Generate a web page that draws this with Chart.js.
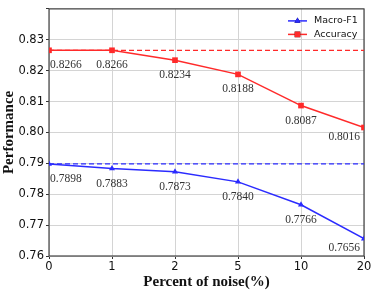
<!DOCTYPE html>
<html>
<head>
<meta charset="utf-8">
<script src="https://cdn.jsdelivr.net/npm/chart.js@4"></script>
<style>
  html, body { margin: 0; padding: 0; background: #fff; }
  #wrap { width: 374px; height: 291px; }
</style>
</head>
<body>
<div id="wrap"><canvas id="noiseChart"></canvas></div>
<script>
const noiseLevels = ["0", "1", "2", "5", "10", "20"];
const macroF1 = [0.7898, 0.7883, 0.7873, 0.7840, 0.7766, 0.7656];
const accuracy = [0.8266, 0.8266, 0.8234, 0.8188, 0.8087, 0.8016];
const macroF1Base = [0.7898, 0.7898, 0.7898, 0.7898, 0.7898, 0.7898];
const accuracyBase = [0.8266, 0.8266, 0.8266, 0.8266, 0.8266, 0.8266];

const RED = '#ff2a2a';
const BLUE = '#2b2bff';

// frame round the plot area
const framePlugin = {
  id: 'frame',
  beforeDatasetsDraw(chart) {
    const a = chart.chartArea;
    const ctx = chart.ctx;
    ctx.save();
    ctx.strokeStyle = '#444';
    ctx.lineWidth = 1.2;
    ctx.strokeRect(a.left, a.top, a.right - a.left, a.bottom - a.top);
    ctx.restore();
  }
};

// value labels under the points
const valueLabels = {
  id: 'valueLabels',
  afterDatasetsDraw(chart) {
    const ctx = chart.ctx;
    ctx.save();
    ctx.font = "11.5px 'Liberation Serif', serif";
    ctx.fillStyle = '#333';
    ctx.textBaseline = 'middle';
    [0, 1].forEach(di => {
      const meta = chart.getDatasetMeta(di);
      const vals = chart.data.datasets[di].data;
      meta.data.forEach((pt, i) => {
        let x = pt.x;
        ctx.textAlign = 'center';
        if (i === 0) { ctx.textAlign = 'left'; x = pt.x + 1; }
        if (i === vals.length - 1) { ctx.textAlign = 'right'; x = pt.x - 4; }
        const dy = (i === vals.length - 1) ? 9 : 15;
        ctx.fillText(vals[i].toFixed(4), x, pt.y + dy);
      });
    });
    ctx.restore();
  }
};

// legend with line + marker, top right inside the axes
const lineLegend = {
  id: 'lineLegend',
  afterDraw(chart) {
    const ctx = chart.ctx;
    const a = chart.chartArea;
    const items = [chart.data.datasets[0], chart.data.datasets[1]];
    ctx.save();
    ctx.font = "9.5px 'DejaVu Sans', sans-serif";
    ctx.textBaseline = 'middle';
    ctx.textAlign = 'left';
    items.forEach((ds, i) => {
      const y = a.top + 12 + i * 13.5;
      const x0 = a.right - 76;
      const x1 = x0 + 19;
      ctx.strokeStyle = ds.borderColor;
      ctx.lineWidth = 1.5;
      ctx.beginPath();
      ctx.moveTo(x0, y);
      ctx.lineTo(x1, y);
      ctx.stroke();
      Chart.helpers.drawPoint(ctx, {
        pointStyle: ds.pointStyle,
        radius: ds.pointRadius,
        borderWidth: 0
      }, (x0 + x1) / 2, y);
      ctx.fillStyle = ds.borderColor;
      ctx.fill();
      ctx.fillStyle = '#111';
      ctx.fillText(ds.label, x1 + 7, y);
    });
    ctx.restore();
  }
};

new Chart(document.getElementById('noiseChart'), {
  type: 'line',
  data: {
    labels: noiseLevels,
    datasets: [
      {
        label: 'Macro-F1',
        data: macroF1,
        borderColor: BLUE,
        backgroundColor: BLUE,
        borderWidth: 1.5,
        pointStyle: 'triangle',
        pointRadius: 3.5,
        pointBorderWidth: 0,
        tension: 0,
        clip: 0
      },
      {
        label: 'Accuracy',
        data: accuracy,
        borderColor: RED,
        backgroundColor: RED,
        borderWidth: 1.5,
        pointStyle: 'rect',
        pointRadius: 4,
        pointBorderWidth: 0,
        tension: 0,
        clip: 0
      },
      {
        label: 'Macro-F1 base',
        data: macroF1Base,
        borderColor: BLUE,
        borderWidth: 1.3,
        borderDash: [5, 3],
        pointRadius: 0,
        clip: 0
      },
      {
        label: 'Accuracy base',
        data: accuracyBase,
        borderColor: RED,
        borderWidth: 1.3,
        borderDash: [5, 3],
        pointRadius: 0,
        clip: 0
      }
    ]
  },
  options: {
    responsive: true,
    maintainAspectRatio: false,
    animation: false,
    layout: { padding: { top: 6, right: 10, left: 0, bottom: 0 } },
    plugins: {
      legend: { display: false },
      tooltip: { enabled: false }
    },
    scales: {
      x: {
        type: 'category',
        offset: false,
        grid: { color: '#d4d4d4', lineWidth: 1, tickColor: '#333', tickLength: 3, offset: false },
        border: { display: false },
        ticks: {
          color: '#111',
          font: { family: "'DejaVu Sans', sans-serif", size: 11.5 },
          padding: 1,
          maxRotation: 0
        },
        title: {
          display: true,
          text: 'Percent of noise(%)',
          color: '#111',
          font: { family: "'Liberation Serif', serif", size: 15, weight: 'bold' },
          padding: { top: 0, bottom: 0 }
        },
        afterFit(scale) { scale.height = 35; }
      },
      y: {
        min: 0.76,
        max: 0.84,
        grid: { color: '#d4d4d4', lineWidth: 1, tickColor: '#333', tickLength: 3 },
        border: { display: false },
        ticks: {
          stepSize: 0.01,
          color: '#111',
          font: { family: "'DejaVu Sans', sans-serif", size: 11.5 },
          padding: 2,
          callback: (v) => v > 0.835 ? '' : v.toFixed(2)
        },
        title: {
          display: true,
          text: 'Performance',
          color: '#111',
          font: { family: "'Liberation Serif', serif", size: 15, weight: 'bold' },
          padding: { top: 0, bottom: 0 }
        },
        afterFit(scale) { scale.width = 49; }
      }
    }
  },
  plugins: [framePlugin, valueLabels, lineLegend]
});
</script>
</body>
</html>
